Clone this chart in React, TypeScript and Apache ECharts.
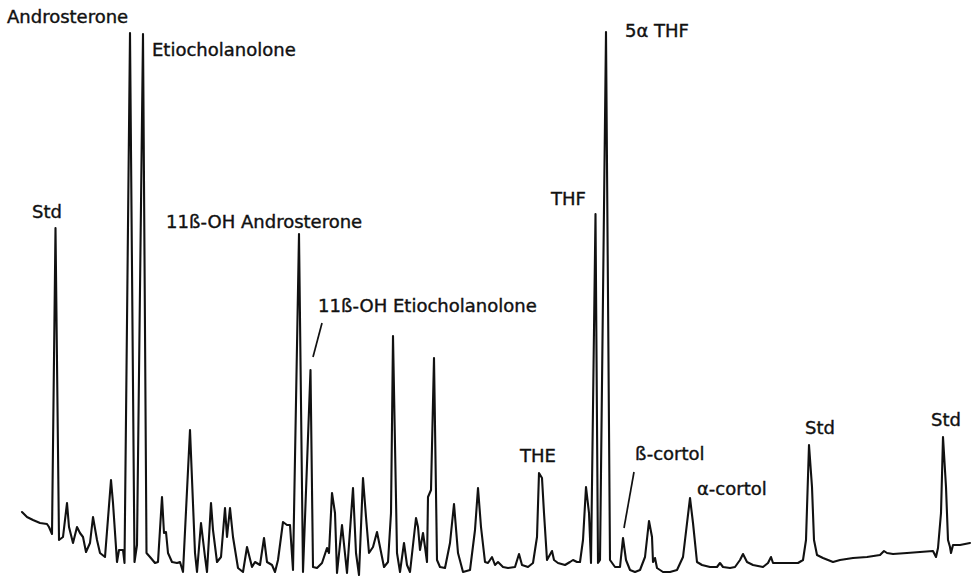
import React, { useEffect, useRef } from "react";
import * as echarts from "echarts";

// Urinary steroid profile trace: [retention (scan units), detector response]
const trace: [number, number][] = [
  [22, 67], [27, 62], [33, 59], [40, 56], [47, 55], [49, 52], [52, 45],
  [55.5, 351], [59, 39], [63, 42], [67, 76], [69, 52], [73, 36], [77, 52],
  [80, 46], [83, 42], [86, 27], [90, 36], [93, 62], [97, 39], [100, 26],
  [105, 22], [111, 99], [113, 76], [117, 17], [119, 29], [123, 29], [124.5, 16],
  [130, 546], [134.5, 17], [137, 34], [143, 545], [146.5, 26], [150, 22],
  [155, 16], [158, 17], [162, 82], [164, 46], [166, 47], [168, 26], [172, 17],
  [177, 16], [180, 17], [183, 7], [190, 149], [195, 26], [197, 7], [201, 56],
  [205, 22], [207, 7], [211, 76], [213, 49], [217, 17], [221, 22], [225, 71],
  [227, 42], [230, 71], [233, 42], [238, 11], [243, 7], [247, 32], [252, 12],
  [255, 17], [260, 14], [264, 41], [267, 17], [272, 14], [275, 7], [278, 19],
  [283, 57], [287, 54], [290, 54], [293, 9], [299, 345], [303, 7],
  [310.5, 209], [313, 12], [317, 11], [322, 16], [327, 31], [329, 26],
  [332, 86], [335, 66], [337, 6], [342, 54], [347, 6], [353, 91], [356, 26],
  [359, 4], [363, 101], [366, 62], [369, 26], [373, 32], [377, 47], [380, 32],
  [384, 12], [388, 17], [391, 66], [393, 243], [397, 26], [400, 7], [404, 36],
  [407, 14], [410, 7], [416, 61], [418, 52], [420, 29], [423, 46], [425, 32],
  [427, 17], [428, 82], [431, 89], [434, 221], [437, 19], [440, 12], [445, 11],
  [450, 36], [454, 75], [458, 26], [463, 7], [470, 9], [475, 49], [478, 91],
  [481, 52], [485, 17], [488, 16], [492, 22], [495, 14], [498, 17], [503, 12],
  [508, 11], [515, 12], [519, 25], [522, 14], [528, 12], [533, 16], [537, 42],
  [539, 106], [542, 101], [544, 66], [547, 19], [552, 28], [554, 19], [558, 16],
  [565, 14], [570, 17], [573, 19], [577, 17], [580, 17], [583, 39], [586, 92],
  [589, 66], [591, 16], [595.5, 365], [598, 16], [600, 19], [606, 547],
  [610, 19], [615, 12], [620, 12], [623, 41], [626, 19], [630, 9], [635, 7],
  [640, 9], [645, 22], [649, 58], [652, 42], [653, 17], [655, 21], [657, 11],
  [663, 7], [670, 7], [677, 9], [683, 22], [690, 81], [693, 56], [697, 17],
  [702, 14], [710, 12], [717, 12], [720, 16], [723, 12], [730, 11], [735, 12],
  [740, 19], [743, 25], [747, 17], [753, 14], [763, 12], [768, 16], [771, 22],
  [773, 16], [780, 16], [787, 16], [792, 16], [798, 16], [803, 19], [806, 39],
  [809, 134], [812, 92], [814, 39], [817, 24], [823, 21], [833, 17], [840, 19],
  [853, 21], [867, 22], [880, 24], [884, 28], [887, 26], [893, 25], [907, 26],
  [920, 27], [933, 28], [936, 22], [938, 31], [941, 66], [943, 142], [946, 92],
  [948, 39], [950, 32], [951, 26], [953, 34], [960, 34], [970, 36],
];

// Leader lines tying labels to their peaks (data coordinates)
const leaderEtiocholanolone: [number, number][] = [[322, 256], [313, 222]];
const leaderBetaCortol: [number, number][] = [[634, 107], [624, 51]];

// Peak names
const peakNames = [
  "Androsterone",
  "Etiocholanolone",
  "Std",
  "11ß-OH Androsterone",
  "11ß-OH Etiocholanolone",
  "THF",
  "5α THF",
  "THE",
  "ß-cortol",
  "α-cortol",
  "Std",
  "Std",
];

// Label anchor (left edge, vertical middle) in page pixels
const labelAnchors: [number, number][] = [
  [7, 16.5],
  [152, 49],
  [32, 211],
  [166, 221],
  [318, 305],
  [551, 198],
  [625, 30],
  [520, 455],
  [635, 453],
  [697, 488],
  [805, 427],
  [931, 419],
];

const W = 972;
const H = 579;

export default function App() {
  const ref = useRef<HTMLDivElement>(null);

  useEffect(() => {
    if (!ref.current) return;
    const chart = echarts.init(ref.current, null, { renderer: "svg" });
    const ink = "#111111";

    const leaderSeries = [leaderEtiocholanolone, leaderBetaCortol].map((d) => ({
      type: "line" as const,
      data: d,
      symbol: "none",
      silent: true,
      lineStyle: { color: ink, width: 1.7 },
    }));

    chart.setOption({
      animation: false,
      backgroundColor: "#ffffff",
      grid: { left: 0, right: 0, top: 0, bottom: 0 },
      xAxis: { type: "value", min: 0, max: W, show: false },
      yAxis: { type: "value", min: 0, max: H, show: false },
      series: [
        {
          type: "line",
          data: trace,
          symbol: "none",
          silent: true,
          lineStyle: { color: ink, width: 2.1, join: "round", cap: "round" },
        },
        ...leaderSeries,
      ],
      graphic: peakNames.map((name, i) => ({
        type: "text",
        x: labelAnchors[i][0],
        y: labelAnchors[i][1],
        silent: true,
        style: {
          text: name,
          fill: ink,
          stroke: ink,
          lineWidth: 0.4,
          font: '18px "DejaVu Sans", sans-serif',
          textAlign: "left",
          textVerticalAlign: "middle",
        },
      })),
    });

    return () => chart.dispose();
  }, []);

  return (
    <div
      ref={ref}
      style={{ position: "fixed", left: 0, top: 0, width: W, height: H }}
    />
  );
}
